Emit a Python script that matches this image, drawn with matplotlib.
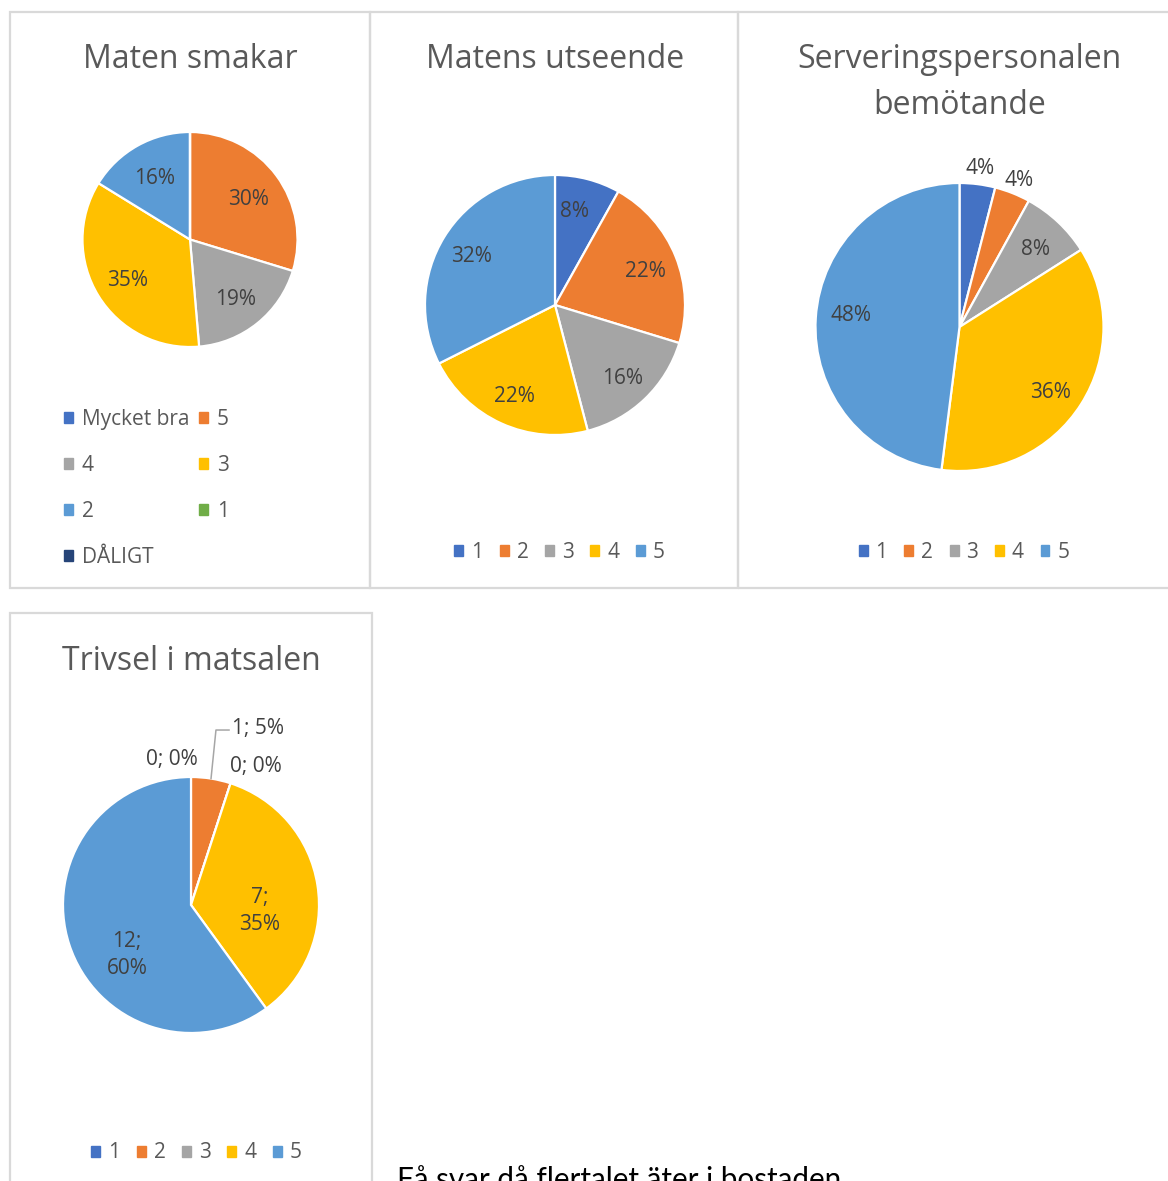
import numpy as np
import matplotlib
matplotlib.use('Agg')
import matplotlib.pyplot as plt
from matplotlib.patches import Rectangle, Patch
from matplotlib.transforms import ScaledTranslation

plt.rcParams['font.family'] = ['Open Sans', 'DejaVu Sans']

W, H = 1168, 1181

# survey answers (counts)
cats_smak = ['Mycket bra', '5', '4', '3', '2', '1', 'DÅLIGT']
vals_smak = [0, 11, 7, 13, 6, 0, 0]

cats_five = ['1', '2', '3', '4', '5']
vals_utseende = [3, 8, 6, 8, 12]
vals_personal = [1, 1, 2, 9, 12]
vals_trivsel = [0, 1, 0, 7, 12]

titles = ['Maten smakar', 'Matens utseende', 'Serveringspersonalen\nbemötande', 'Trivsel i matsalen']
note = 'Få svar då flertalet äter i bostaden'

colors7 = ['#4472C4', '#ED7D31', '#A5A5A5', '#FFC000', '#5B9BD5', '#70AD47', '#264478']
colors5 = colors7[:5]

TITLE_C = '#595959'
LABEL_C = '#404040'
BORDER_C = '#D9D9D9'
FS_TITLE = 23
FS_LABEL = 15
FS_LEG = 15


def fx(x):
    return x / W


def fy(y):
    # Open Sans sits a little high when centred, push text down ~3px
    return 1 - (y + 3) / H


fig = plt.figure(figsize=(W / 100, H / 100), dpi=100)
down = ScaledTranslation(0, -3 / 100, fig.dpi_scale_trans)

# panel frames
for (l, t, r, b) in [(10, 12, 370, 588), (370, 12, 738, 588), (738, 12, 1180, 588), (10, 613, 372, 1195)]:
    fig.add_artist(Rectangle((l / W, 1 - b / H), (r - l) / W, (b - t) / H, transform=fig.transFigure,
                             fill=False, ec=BORDER_C, lw=1.6))


def pie_axes(cx, cy, R):
    ax = fig.add_axes([(cx - R) / W, 1 - (cy + R) / H, 2 * R / W, 2 * R / H])
    ax.axis('off')
    return ax


def draw_pie(ax, vals, cols):
    wedges, _ = ax.pie(vals, colors=cols, startangle=90, counterclock=False, radius=1,
                       wedgeprops=dict(edgecolor='white', linewidth=1.6))
    # pie() resets the limits to +-1.25, take them back to the radius
    ax.set_xlim(-1, 1)
    ax.set_ylim(-1, 1)
    return wedges


def label(ax, x, y, s, **kw):
    ax.text(x, y, s, fontsize=FS_LABEL, color=LABEL_C, transform=ax.transData + down, **kw)


def pct_labels(ax, wedges, vals, dists, shifts=None):
    tot = sum(vals)
    shifts = shifts or [0] * len(vals)
    for w, v, d, sh in zip(wedges, vals, dists, shifts):
        if v == 0:
            continue
        a = np.deg2rad((w.theta1 + w.theta2) / 2 + sh)
        label(ax, d * np.cos(a), d * np.sin(a), f'{round(100 * v / tot)}%', ha='center', va='center')


# ---- Maten smakar
ax1 = pie_axes(190, 239.5, 107.5)
w1 = draw_pie(ax1, vals_smak, colors7)
pct_labels(ax1, w1, vals_smak, [0.68] * 7)
fig.text(fx(190), fy(57), titles[0], ha='center', va='center', fontsize=FS_TITLE, color=TITLE_C)
h1 = [Patch(color=c, label=l) for c, l in zip(colors7, cats_smak)]
order = [0, 2, 4, 6, 1, 3, 5]
fig.legend([h1[i] for i in order], [cats_smak[i] for i in order], ncol=2, loc='center left',
           bbox_to_anchor=(fx(64), fy(485.5)), frameon=False, fontsize=FS_LEG, handlelength=0.43,
           handleheight=0.43, handletextpad=0.43, columnspacing=0.45, labelspacing=1.2,
           borderpad=0, borderaxespad=0, labelcolor=TITLE_C)

# ---- Matens utseende
ax2 = pie_axes(555, 305, 130)
w2 = draw_pie(ax2, vals_utseende, colors5)
pct_labels(ax2, w2, vals_utseende, [0.76, 0.75, 0.75, 0.75, 0.75], [3, 0, 0, 0, 0])
fig.text(fx(555), fy(57), titles[1], ha='center', va='center', fontsize=FS_TITLE, color=TITLE_C)

# ---- Serveringspersonalen
ax3 = pie_axes(959.5, 327, 144)
w3 = draw_pie(ax3, vals_personal, colors5)
pct_labels(ax3, w3, vals_personal, [1.13, 1.12, 0.77, 0.77, 0.76], [0, 0, 0, -2, -4])
fig.text(fx(959.5), fy(79.5), titles[2], ha='center', va='center', fontsize=FS_TITLE, color=TITLE_C,
         linespacing=1.5)

# ---- Trivsel i matsalen
ax4 = pie_axes(191, 905, 128)
w4 = draw_pie(ax4, vals_trivsel, colors5)
fig.text(fx(191), fy(658), titles[3], ha='center', va='center', fontsize=FS_TITLE, color=TITLE_C)
tot4 = sum(vals_trivsel)
# (angle shift from slice middle, distance) for Excel's best-fit labels
lab4 = [(7.3, 1.166), (-11.4, 1.50), (-6.6, 1.22), (-11.5, 0.54), (18.3, 0.62)]
for i, (w, v) in enumerate(zip(w4, vals_trivsel)):
    mid = (w.theta1 + w.theta2) / 2
    sh, d = lab4[i]
    a = np.deg2rad(mid + sh)
    x, y = d * np.cos(a), d * np.sin(a)
    pct = round(100 * v / tot4)
    if i == 1:
        am = np.deg2rad(mid)
        ax4.plot([np.cos(am), 0.195, 0.297], [np.sin(am), 1.367, 1.367], color='#A6A6A6', lw=1.1,
                 clip_on=False)
        label(ax4, 0.322, 1.406, f'{v}; {pct}%', ha='left', va='center')
    elif v == 0:
        label(ax4, x, y, f'{v}; {pct}%', ha='center', va='center')
    else:
        label(ax4, x, y, f'{v};\n{pct}%', ha='center', va='center', linespacing=1.4)

# horizontal legends
for cx, cy in [(559.5, 549), (964, 549), (196.5, 1150)]:
    hs = [Patch(color=c, label=l) for c, l in zip(colors5, cats_five)]
    fig.legend(handles=hs, ncol=5, loc='center', bbox_to_anchor=(fx(cx), fy(cy)), frameon=False,
               fontsize=FS_LEG, handlelength=0.43, handleheight=0.43, handletextpad=0.38,
               columnspacing=0.8, borderpad=0, borderaxespad=0, labelcolor=TITLE_C)

fig.text(397 / W, 1 - 1166 / H, note, ha='left', va='top', fontsize=21.3, color='black',
         family=['Lato', 'DejaVu Sans'])

fig.savefig('out.png', dpi=100)
